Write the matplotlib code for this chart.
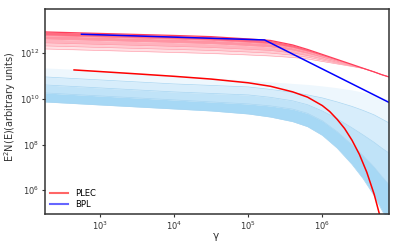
import numpy as np
import matplotlib
matplotlib.use("Agg")
import matplotlib.pyplot as plt
from matplotlib.lines import Line2D

# log10(gamma) grid used for the shaded bands
band_lgam = [2.258, 3.0, 3.5, 4.0, 4.5, 5.0, 5.3, 5.6, 5.8, 6.0, 6.2, 6.4, 6.55, 6.7, 6.8, 6.9]

# lower (blue) bands: log10 of the band edges, top to bottom
blue_edges = [
    [11.345, 11.236, 11.140, 11.031, 10.908, 10.799, 10.734, 10.668, 10.624, 10.559, 10.480, 10.384, 10.284, 10.166, 10.057, 9.948],
    [10.952, 10.821, 10.734, 10.646, 10.581, 10.515, 10.406, 10.275, 10.166, 10.035, 9.860, 9.664, 9.489, 9.293, 9.118, 8.943],
    [10.603, 10.472, 10.384, 10.297, 10.231, 10.166, 10.061, 9.908, 9.738, 9.463, 9.122, 8.729, 8.417, 8.092, 7.847, 7.625],
    [10.253, 10.122, 10.035, 9.948, 9.860, 9.773, 9.686, 9.546, 9.362, 9.035, 8.563, 7.987, 7.515, 7.009, 6.616, 6.253],
    [9.860, 9.729, 9.642, 9.555, 9.467, 9.336, 9.201, 9.000, 8.782, 8.402, 7.843, 7.135, 6.511, 5.764, 5.153, 4.559],
]
blue_colors = ["#eef7fd", "#d7edfb", "#c0e3f8", "#a6d8f5"]

# upper (red) bands: log10 of the band edges, top to bottom
red_edges = [
    [12.917, 12.852, 12.808, 12.764, 12.712, 12.611, 12.546, 12.349, 12.153, 11.935, 11.716, 11.498, 11.332, 11.170, 11.052, 10.952],
    [12.756, 12.690, 12.646, 12.603, 12.550, 12.459, 12.397, 12.227, 12.061, 11.869, 11.673, 11.480, 11.330, 11.170, 11.052, 10.952],
    [12.607, 12.542, 12.498, 12.454, 12.402, 12.319, 12.262, 12.118, 11.978, 11.808, 11.633, 11.463, 11.328, 11.170, 11.052, 10.952],
    [12.437, 12.371, 12.328, 12.284, 12.236, 12.157, 12.105, 11.996, 11.882, 11.738, 11.590, 11.441, 11.328, 11.170, 11.052, 10.952],
    [12.306, 12.240, 12.197, 12.153, 12.109, 12.039, 11.991, 11.900, 11.812, 11.686, 11.555, 11.428, 11.323, 11.170, 11.052, 10.952],
    [12.175, 12.109, 12.066, 12.022, 11.978, 11.913, 11.869, 11.804, 11.738, 11.629, 11.520, 11.410, 11.323, 11.170, 11.052, 10.952],
]
red_colors = ["#ff6b80", "#ff94a3", "#ffb2bd", "#ffcbd2", "#ffe0e4"]

# PLEC model line
plec_lgam = [2.65, 3.0, 3.5, 4.0, 4.5, 5.0, 5.3, 5.6, 5.8, 6.0, 6.1, 6.2, 6.3, 6.4, 6.5, 6.6, 6.7, 6.8]
plec_lflux = [11.258, 11.187, 11.085, 10.979, 10.859, 10.696, 10.544, 10.30, 10.07, 9.70, 9.44, 9.10, 8.70, 8.19, 7.57, 6.79, 5.82, 4.60]

# BPL model line
bpl_lgam = [2.75, 5.22, 6.9]
bpl_lflux = [12.817, 12.568, 9.838]

g = 10 ** np.array(band_lgam)

fig = plt.figure(figsize=(3.99, 2.49), dpi=100)
ax = fig.add_axes([0.1128, 0.1406, 0.8622, 0.8233])

for i, c in enumerate(blue_colors):
    ax.fill_between(g, 10 ** np.array(blue_edges[i + 1]), 10 ** np.array(blue_edges[i]),
                    color=c, lw=0)
for e in blue_edges[1:]:
    ax.plot(g, 10 ** np.array(e), color="#a9d6f2", lw=0.5)

for i, c in enumerate(red_colors):
    ax.fill_between(g, 10 ** np.array(red_edges[i + 1]), 10 ** np.array(red_edges[i]),
                    color=c, lw=0)
for e in red_edges[1:]:
    ax.plot(g, 10 ** np.array(e), color="#ff9aa8", lw=0.4)
ax.plot(g, 10 ** np.array(red_edges[0]), color="#ff3d5a", lw=0.9)

ax.plot(10 ** np.array(plec_lgam), 10 ** np.array(plec_lflux), color="red", lw=1.1)
ax.plot(10 ** np.array(bpl_lgam), 10 ** np.array(bpl_lflux), color="blue", lw=1.1)

ax.set_xscale("log")
ax.set_yscale("log")
ax.set_xlim(10 ** 2.258, 10 ** 6.90)
ax.set_ylim(10 ** 4.965, 10 ** 13.92)
ax.set_xticks([1e3, 1e4, 1e5, 1e6])
ax.set_yticks([1e6, 1e8, 1e10, 1e12])
ax.minorticks_off()
ax.tick_params(labelsize=6, length=2, width=0.8, pad=2, colors="#333333")

for s in ax.spines.values():
    s.set_linewidth(1.1)
    s.set_color("#333333")

ax.set_xlabel("γ", fontsize=7.5, color="#333333")
ax.set_ylabel("E$^2$N(E)(arbitrary units)", fontsize=7, color="#333333")
ax.xaxis.set_label_coords(0.497, -0.083)
ax.yaxis.set_label_coords(-0.078, 0.522)

handles = [Line2D([], [], color="red", lw=1.5, alpha=0.6),
           Line2D([], [], color="blue", lw=1.5, alpha=0.6)]
ax.legend(handles, ["PLEC", "BPL"], loc="lower left", frameon=False, fontsize=6,
          handlelength=2.2, labelspacing=0.25, borderaxespad=0.2)

fig.savefig("out.png", dpi=100)
